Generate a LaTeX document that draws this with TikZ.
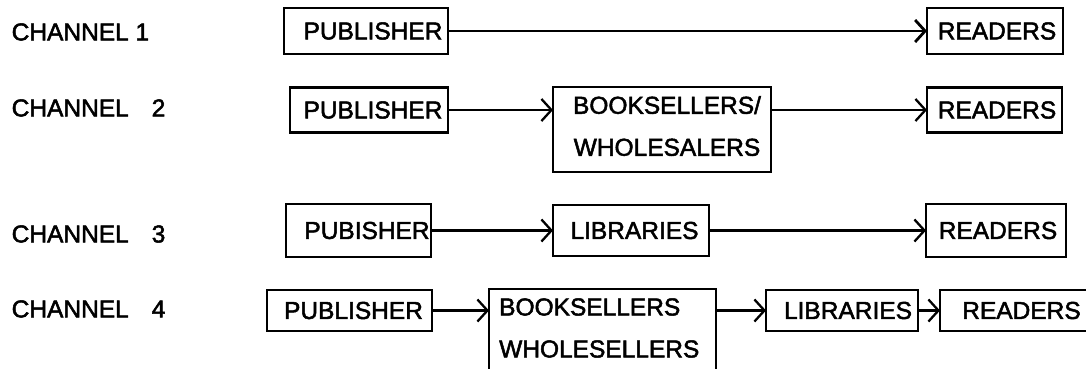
\documentclass[tikz,border=0pt]{standalone}
\usepackage{fontspec}
\setmainfont{Liberation Sans}
\newfontfamily\heavyfont{Liberation Sans}[FakeBold=2]
\usetikzlibrary{arrows.meta}
\begin{document}
\begin{tikzpicture}[x=1pt,y=-1pt,
  box/.style={draw, line width=2.5pt, inner sep=0pt, outer sep=0pt},
  txt/.style={font=\heavyfont\fontsize{24.5}{42}\selectfont, inner sep=0pt},
  lbl/.style={txt, anchor=west},
  conn/.style={line width=2.3pt, -{Straight Barb[length=10pt,width=22pt]}}]
\useasboundingbox (0,0) rectangle (1086,368);
\clip (0,0) rectangle (1086,368);
\fill[white] (0,0) rectangle (1086,368);

% channel labels
\node[lbl] (c1) at (11.5,32) {CHANNEL 1};
\node[lbl] (c2) at (11.5,108) {CHANNEL\hspace{23pt}2};
\node[lbl] (c3) at (11.5,234) {CHANNEL\hspace{23pt}3};
\node[lbl] (c4) at (11.5,309) {CHANNEL\hspace{23pt}4};

% row 1
\node[box, minimum width=164, minimum height=46] (p1) at (366,31) {};
\node[txt] at (373,31) {PUBLISHER};
\node[box, minimum width=136, minimum height=46] (r1) at (995,31) {};
\node[txt] at (997,31) {READERS};
\draw[conn, line width=2.8pt] (p1.east) -- (r1.west);

% row 2
\node[box, minimum width=158, minimum height=45] (p2) at (369,110) {};
\node[txt] at (373,110) {PUBLISHER};
\node[box, minimum width=218, minimum height=85] (b2) at (662,129.5) {};
\node[txt, align=center] at (667,126) {BOOKSELLERS/\\WHOLESALERS};
\node[box, minimum width=135, minimum height=45] (r2) at (994.5,110) {};
\node[txt] at (997,110) {READERS};
\draw[conn] (p2.east) -- (p2.east -| b2.west);
\draw[conn] (r2.west -| b2.east) -- (r2.west);

% row 3
\node[box, minimum width=145, minimum height=53] (p3) at (358.5,230.5) {};
\node[txt] at (367,230.5) {PUBISHER};
\node[box, minimum width=156, minimum height=51] (l3) at (631,230.5) {};
\node[txt] at (634.5,230.5) {LIBRARIES};
\node[box, minimum width=140, minimum height=53] (r3) at (996,230.5) {};
\node[txt] at (998,230.5) {READERS};
\draw[conn] (p3.east) -- (l3.west);
\draw[conn] (l3.east) -- (r3.west);

% row 4
\node[box, minimum width=165, minimum height=41] (p4) at (349.5,310.5) {};
\node[txt] at (353.5,310.5) {PUBLISHER};
\node[box, minimum width=227, minimum height=111] (b4) at (602.5,344.5) {};
\node[txt, align=left, anchor=west] at (499,328) {BOOKSELLERS\\WHOLESELLERS};
\node[box, minimum width=152, minimum height=41] (l4) at (842,310.5) {};
\node[txt] at (848,310.5) {LIBRARIES};
\node[box, minimum width=170, minimum height=41] (r4) at (1025,310.5) {};
\node[txt] at (1021.5,310.5) {READERS};
\draw[conn] (p4.east) -- (p4.east -| b4.west);
\draw[conn] (l4.west -| b4.east) -- (l4.west);
\draw[conn] (l4.east) -- (r4.west);
\end{tikzpicture}
\end{document}
